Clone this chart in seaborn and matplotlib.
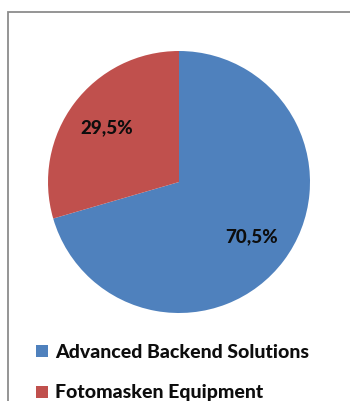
import matplotlib
matplotlib.use("Agg")
import matplotlib.pyplot as plt
from matplotlib.patches import Rectangle
from matplotlib.lines import Line2D
import numpy as np
import seaborn as sns

categories = ["Advanced Backend Solutions", "Fotomasken Equipment"]
shares = [70.5, 29.5]
share_labels = ["70,5%", "29,5%"]
colors = ["#4F81BD", "#C0504D"]

sns.set_theme(style="white")
plt.rcParams["font.family"] = ["Lato", "DejaVu Sans"]

W, H = 350, 401
fig = plt.figure(figsize=(W / 100, H / 100), dpi=100)
fig.patch.set_facecolor("white")

# chart frame (open to the right and bottom)
fig.add_artist(Rectangle((8 / W, -0.05), 1.2, 1 - 12 / H + 0.05,
                         transform=fig.transFigure, fill=False,
                         edgecolor="#8C8C8C", linewidth=1.3))

cx, cy, r = 179, 182, 131
ax = fig.add_axes([(cx - r) / W, (H - cy - r) / H, 2 * r / W, 2 * r / H])
wedges, _ = ax.pie(shares, colors=colors, startangle=90, counterclock=False,
                   radius=1.0, wedgeprops=dict(linewidth=0))
ax.set_xlim(-1, 1)
ax.set_ylim(-1, 1)
ax.set_aspect("equal")
ax.axis("off")

# percentage labels inside wedges
for w, lab in zip(wedges, share_labels):
    ang = np.deg2rad((w.theta1 + w.theta2) / 2)
    ax.text(0.69 * np.cos(ang), 0.69 * np.sin(ang), lab, ha="center", va="center",
            fontsize=13.5, fontweight="black", color="#0D0D0D")

handles = [Line2D([], [], marker="s", linestyle="none", markersize=8.5,
                  markerfacecolor=c, markeredgewidth=0) for c in colors]
fig.legend(handles, categories, loc="upper left", bbox_to_anchor=(33 / W, 1 - 344 / H),
           frameon=False, handletextpad=0.25, labelspacing=1.2, handlelength=0.9,
           prop=dict(weight="black", size=14), labelcolor="#0D0D0D",
           borderaxespad=0, borderpad=0)

fig.savefig("out.png", dpi=100)
